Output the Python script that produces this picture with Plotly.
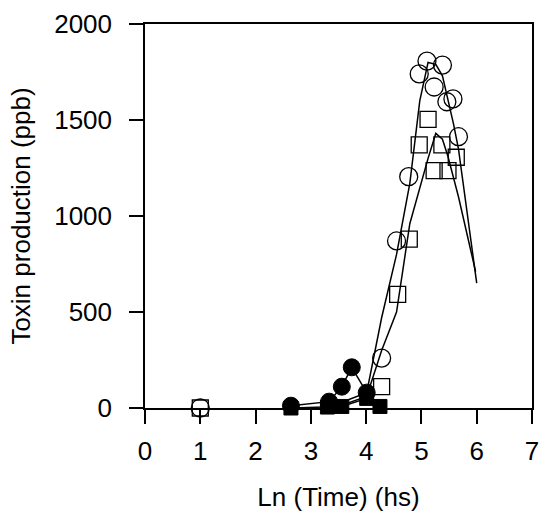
import plotly.graph_objects as go

# ---- data ----
open_circle_x = [1.00, 4.28, 4.55, 4.77, 4.96, 5.10, 5.23, 5.38, 5.46, 5.57, 5.67]
open_circle_y = [0, 260, 870, 1205, 1740, 1807, 1672, 1786, 1595, 1610, 1413]

open_square_x = [1.00, 4.28, 4.57, 4.78, 4.96, 5.12, 5.23, 5.37, 5.48, 5.63]
open_square_y = [0, 111, 592, 880, 1370, 1503, 1236, 1370, 1236, 1306]

filled_circle_x = [2.64, 3.33, 3.56, 3.74, 4.01]
filled_circle_y = [12, 33, 111, 212, 80]

filled_square_x = [2.64, 3.30, 3.56, 4.01, 4.25]
filled_square_y = [0, 5, 8, 50, 8]

fit_circle_x = [3.56, 4.01, 4.28, 4.55, 4.79, 4.97, 5.12, 5.26, 5.38, 5.48, 5.58, 5.67, 6.00]
fit_circle_y = [30, 80, 470, 800, 1170, 1600, 1800, 1790, 1730, 1610, 1480, 1350, 650]

fit_square_x = [3.56, 4.01, 4.28, 4.55, 4.79, 4.97, 5.12, 5.26, 5.38, 5.48, 5.58, 5.67, 5.98]
fit_square_y = [15, 60, 300, 500, 960, 1150, 1300, 1430, 1400, 1310, 1200, 1100, 710]

x_ticks = [0, 1, 2, 3, 4, 5, 6, 7]
y_ticks = [0, 500, 1000, 1500, 2000]

FONT = "Liberation Sans, Arial, sans-serif"
FS = 26

fig = go.Figure()

line_style = dict(color="black", width=1.5)

fig.add_trace(go.Scatter(x=fit_circle_x, y=fit_circle_y, mode="lines",
                         line=line_style, cliponaxis=False, showlegend=False))
fig.add_trace(go.Scatter(x=fit_square_x, y=fit_square_y, mode="lines",
                         line=line_style, cliponaxis=False, showlegend=False))

fig.add_trace(go.Scatter(x=filled_circle_x, y=filled_circle_y, mode="lines+markers",
                         line=line_style,
                         marker=dict(symbol="circle", size=17, color="black",
                                     line=dict(color="black", width=1)),
                         cliponaxis=False, showlegend=False))
fig.add_trace(go.Scatter(x=filled_square_x, y=filled_square_y, mode="lines+markers",
                         line=line_style,
                         marker=dict(symbol="square", size=14, color="black",
                                     line=dict(color="black", width=1)),
                         cliponaxis=False, showlegend=False))

fig.add_trace(go.Scatter(x=open_circle_x, y=open_circle_y, mode="markers",
                         marker=dict(symbol="circle-open", size=18, color="black",
                                     line=dict(color="black", width=1.3)),
                         cliponaxis=False, showlegend=False))
fig.add_trace(go.Scatter(x=open_square_x, y=open_square_y, mode="markers",
                         marker=dict(symbol="square-open", size=16, color="black",
                                     line=dict(color="black", width=1.3)),
                         cliponaxis=False, showlegend=False))

axis_common = dict(
    showline=True, linecolor="black", linewidth=1.5, mirror=True,
    ticks="outside", ticklen=14, tickwidth=1.5, tickcolor="black",
    showgrid=False, zeroline=False, automargin=False,
    tickfont=dict(family=FONT, size=FS, color="black"),
)

fig.update_xaxes(range=[0, 7], tickvals=x_ticks, ticktext=[str(v) for v in x_ticks],
                 ticklabelstandoff=5,
                 title=dict(text="Ln (Time) (hs)", font=dict(family=FONT, size=FS, color="black"),
                            standoff=29),
                 **axis_common)
fig.update_yaxes(range=[0, 2000], tickvals=y_ticks, ticktext=[str(v) for v in y_ticks],
                 ticklabelstandoff=12,
                 title=dict(text="Toxin production (ppb)", font=dict(family=FONT, size=FS, color="black"),
                            standoff=16),
                 **axis_common)

fig.update_layout(
    width=541, height=512,
    margin=dict(l=145, r=9, t=24, b=104),
    paper_bgcolor="white", plot_bgcolor="white",
)

fig.write_html("out.html")
